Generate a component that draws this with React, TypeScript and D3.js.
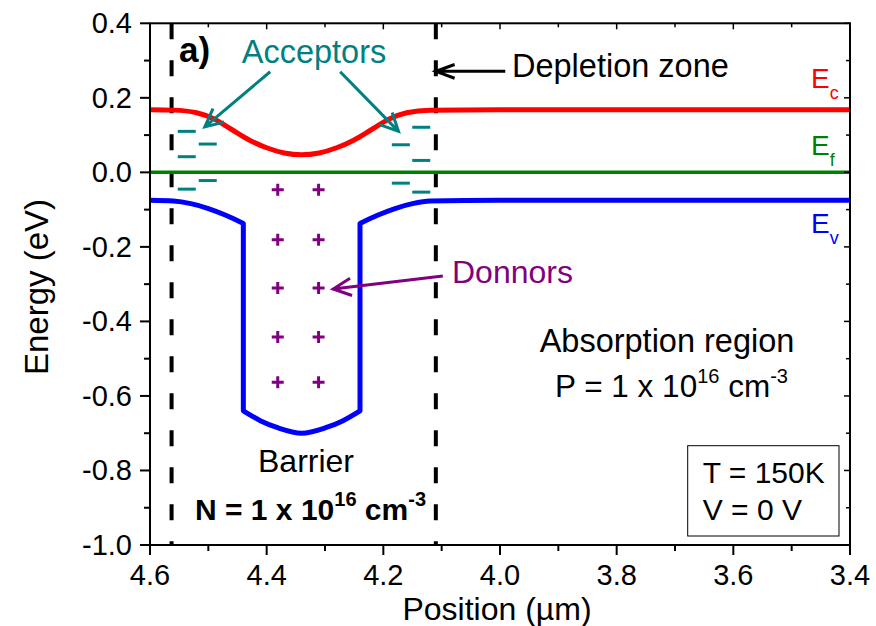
import React, { useEffect, useRef } from 'react';
import * as d3 from 'd3';

const W = 876;
const H = 626;
const FONT = "'Liberation Sans', Arial, Helvetica, sans-serif";

// Axis ticks
const xTicks = [4.6, 4.4, 4.2, 4.0, 3.8, 3.6, 3.4];
const yTicks = [-1.0, -0.8, -0.6, -0.4, -0.2, 0.0, 0.2, 0.4];

// Conduction band edge (position in µm, energy in eV)
const ecPosition = [4.6, 4.56, 4.52, 4.49, 4.46, 4.43, 4.4, 4.37, 4.34, 4.31, 4.28, 4.25, 4.22, 4.19, 4.16, 4.12, 4.0, 3.4];
const ecEnergy = [0.168, 0.167, 0.16, 0.143, 0.115, 0.087, 0.066, 0.052, 0.047, 0.052, 0.066, 0.087, 0.115, 0.143, 0.16, 0.167, 0.168, 0.168];

// Fermi level
const efPosition = [4.6, 3.4];
const efEnergy = [0, 0];

// Valence band edge: left shoulder, barrier bottom, right shoulder
const evLeftPosition = [4.6, 4.56, 4.53, 4.5, 4.47, 4.44];
const evLeftEnergy = [-0.075, -0.077, -0.084, -0.097, -0.115, -0.137];
const evBottomPosition = [4.44, 4.41, 4.38, 4.34, 4.3, 4.27, 4.24];
const evBottomEnergy = [-0.64, -0.667, -0.686, -0.7, -0.686, -0.667, -0.64];
const evRightPosition = [4.24, 4.21, 4.18, 4.15, 4.12, 4.0, 3.4];
const evRightEnergy = [-0.137, -0.115, -0.097, -0.084, -0.077, -0.075, -0.075];

// Depletion zone boundaries (µm)
const depletionEdges = [4.563, 4.11];

// Ionised acceptors (−) and donors (+)
const acceptorPosition = [4.537, 4.501, 4.537, 4.501, 4.537, 4.135, 4.17, 4.135, 4.17, 4.135];
const acceptorEnergy = [0.11, 0.076, 0.042, -0.022, -0.045, 0.121, 0.074, 0.032, -0.029, -0.053];
const donorPosition = [4.381, 4.311, 4.381, 4.311, 4.381, 4.311, 4.381, 4.311, 4.381, 4.311];
const donorEnergy = [-0.047, -0.047, -0.181, -0.181, -0.31, -0.31, -0.442, -0.442, -0.563, -0.563];

const zip = (xs: number[], ys: number[]): [number, number][] => xs.map((v, i) => [v, ys[i]]);

export default function App() {
  const ref = useRef<SVGSVGElement>(null);

  useEffect(() => {
    const svg = d3.select(ref.current);
    svg.selectAll('*').remove();

    const left = 150, right = 850, top = 23.3, bottom = 545;
    const x = d3.scaleLinear().domain([4.6, 3.4]).range([left, right]);
    const y = d3.scaleLinear().domain([-1.0, 0.4]).range([bottom, top]);

    const g = svg.append('g');

    const line = d3
      .line<[number, number]>()
      .x((d) => x(d[0]))
      .y((d) => y(d[1]))
      .curve(d3.curveMonotoneX);

    // depletion zone boundaries
    depletionEdges.forEach((p) => {
      g.append('line')
        .attr('x1', x(p)).attr('x2', x(p))
        .attr('y1', top).attr('y2', bottom)
        .attr('stroke', '#000').attr('stroke-width', 4)
        .attr('stroke-dasharray', '16,21');
    });

    // acceptors
    const teal = '#008080';
    acceptorPosition.forEach((p, i) => {
      g.append('line')
        .attr('x1', x(p) - 9).attr('x2', x(p) + 9)
        .attr('y1', y(acceptorEnergy[i])).attr('y2', y(acceptorEnergy[i]))
        .attr('stroke', teal).attr('stroke-width', 3);
    });

    // donors
    const purple = '#800080';
    donorPosition.forEach((p, i) => {
      const cx = x(p), cy = y(donorEnergy[i]);
      g.append('path')
        .attr('d', `M${cx - 6},${cy}H${cx + 6}M${cx},${cy - 6}V${cy + 6}`)
        .attr('stroke', purple).attr('stroke-width', 3).attr('fill', 'none');
    });

    // band edges
    g.append('path')
      .attr('d', line(zip(ecPosition, ecEnergy)))
      .attr('fill', 'none').attr('stroke', '#ff0000').attr('stroke-width', 5);
    g.append('path')
      .attr('d', line(zip(efPosition, efEnergy)))
      .attr('fill', 'none').attr('stroke', '#008000').attr('stroke-width', 3.5);
    const evPath =
      (line(zip(evLeftPosition, evLeftEnergy)) || '') +
      (line(zip(evBottomPosition, evBottomEnergy)) || '').replace(/^M/, 'L') +
      (line(zip(evRightPosition, evRightEnergy)) || '').replace(/^M/, 'L');
    g.append('path')
      .attr('d', evPath)
      .attr('fill', 'none').attr('stroke', '#0000ff').attr('stroke-width', 5)
      .attr('stroke-linejoin', 'round');

    // arrows with open heads
    const arrow = (x1: number, y1: number, x2: number, y2: number, color: string, len = 20, half = 0.45) => {
      const a = Math.atan2(y2 - y1, x2 - x1);
      const p1 = [x2 - len * Math.cos(a - half), y2 - len * Math.sin(a - half)];
      const p2 = [x2 - len * Math.cos(a + half), y2 - len * Math.sin(a + half)];
      g.append('path')
        .attr('d', `M${x1},${y1}L${x2},${y2}M${p1[0]},${p1[1]}L${x2},${y2}L${p2[0]},${p2[1]}`)
        .attr('fill', 'none').attr('stroke', color).attr('stroke-width', 3);
    };
    arrow(x(4.394), y(0.27), x(4.506), y(0.122), teal);
    arrow(x(4.274), y(0.27), x(4.174), y(0.11), teal);
    arrow(x(3.991), y(0.271), x(4.11), y(0.271), '#000', 20, 0.35);
    arrow(x(4.098), y(-0.278), x(4.286), y(-0.313), purple);

    // frame
    g.append('rect')
      .attr('x', left).attr('y', top)
      .attr('width', right - left).attr('height', bottom - top)
      .attr('fill', 'none').attr('stroke', '#000').attr('stroke-width', 2);

    // ticks: outer on bottom/left, inner on top/right
    const xMinor = d3.range(4.6, 3.35, -0.1);
    const yMinor = d3.range(-1.0, 0.45, 0.1);
    xMinor.forEach((v, i) => {
      const major = i % 2 === 0;
      g.append('line').attr('x1', x(v)).attr('x2', x(v))
        .attr('y1', bottom).attr('y2', bottom + (major ? 10 : 6))
        .attr('stroke', '#000').attr('stroke-width', 2);
      g.append('line').attr('x1', x(v)).attr('x2', x(v))
        .attr('y1', top).attr('y2', top + (major ? 6 : 4))
        .attr('stroke', '#000').attr('stroke-width', 1.5);
    });
    yMinor.forEach((v, i) => {
      const major = i % 2 === 0;
      g.append('line').attr('x1', left).attr('x2', left - (major ? 10 : 6))
        .attr('y1', y(v)).attr('y2', y(v))
        .attr('stroke', '#000').attr('stroke-width', 2);
      g.append('line').attr('x1', right).attr('x2', right - (major ? 6 : 4))
        .attr('y1', y(v)).attr('y2', y(v))
        .attr('stroke', '#000').attr('stroke-width', 1.5);
    });

    const text = (tx: number, ty: number, s: string, opts: { size?: number; anchor?: string; color?: string; weight?: string } = {}) =>
      g.append('text')
        .attr('x', tx).attr('y', ty)
        .attr('font-family', FONT)
        .attr('font-size', opts.size ?? 30)
        .attr('font-weight', opts.weight ?? 'normal')
        .attr('text-anchor', opts.anchor ?? 'start')
        .attr('fill', opts.color ?? '#000')
        .text(s);

    xTicks.forEach((v) => text(x(v), 585, d3.format('.1f')(v), { size: 29, anchor: 'middle' }));
    yTicks.forEach((v) => text(132, y(v) + 10, d3.format('.1f')(v).replace('−', '-'), { size: 29, anchor: 'end' }));

    // axis titles
    g.append('text')
      .attr('transform', 'translate(48,287) rotate(-90)')
      .attr('font-family', FONT).attr('font-size', 33)
      .attr('text-anchor', 'middle').text('Energy (eV)');
    text(497, 620, 'Position (µm)', { anchor: 'middle', size: 32 });

    // band labels with subscripts
    const bandLabel = (ty: number, sub: string, color: string) => {
      const t = text(811, ty, 'E', { size: 28, color });
      t.append('tspan').attr('font-size', 18).attr('dy', 11).text(sub);
    };
    bandLabel(88, 'c', '#ff0000');
    bandLabel(155, 'f', '#008000');
    bandLabel(233, 'v', '#0000ff');

    // annotations
    text(179, 61.7, 'a)', { size: 35, weight: 'bold' });
    text(314, 63.3, 'Acceptors', { anchor: 'middle', color: teal, size: 32.5 });
    text(512, 77, 'Depletion zone', { size: 32.5 });
    text(452, 283, 'Donnors', { color: purple, size: 32 });
    text(667, 351.7, 'Absorption region', { anchor: 'middle', size: 32.5 });

    const sci = (tx: number, ty: number, prefix: string, opts: { size?: number; weight?: string; anchor?: string }) => {
      const t = text(tx, ty, prefix, opts);
      t.append('tspan').attr('font-size', 20).attr('dy', -14).text('16');
      t.append('tspan').attr('dy', 14).text(' cm');
      t.append('tspan').attr('font-size', 20).attr('dy', -14).text('-3');
      return t;
    };
    sci(555, 396.7, 'P = 1 x 10', { size: 31.5 });
    text(306, 471.7, 'Barrier', { anchor: 'middle', size: 32 });
    sci(195, 520, 'N = 1 x 10', { size: 30, weight: 'bold' });

    // conditions box
    g.append('rect')
      .attr('x', 687.7).attr('y', 445.7)
      .attr('width', 151.3).attr('height', 90.3)
      .attr('fill', '#fff').attr('stroke', '#000').attr('stroke-width', 1);
    text(702.7, 482.7, 'T = 150K', { size: 30 });
    text(702.7, 520, 'V = 0 V', { size: 30 });
  }, []);

  return (
    <svg
      ref={ref}
      width={W}
      height={H}
      style={{ position: 'absolute', left: 0, top: 0, background: '#fff' }}
    />
  );
}
